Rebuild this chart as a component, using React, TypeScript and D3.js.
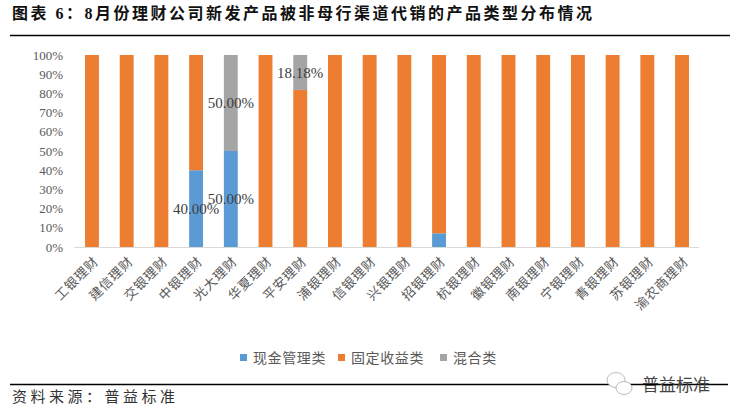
import React from "react";
import * as d3 from "d3";

const categories = ["工银理财","建信理财","交银理财","中银理财","光大理财","华夏理财","平安理财","浦银理财","信银理财","兴银理财","招银理财","杭银理财","徽银理财","南银理财","宁银理财","青银理财","苏银理财","渝农商理财"];
const cashValues = [0,0,0,40,50,0,0,0,0,0,7.14,0,0,0,0,0,0,0];
const fixedValues = [100,100,100,60,0,100,81.82,100,100,100,92.86,100,100,100,100,100,100,100];
const mixedValues = [0,0,0,0,50,0,18.18,0,0,0,0,0,0,0,0,0,0,0];
const seriesNames = ["现金管理类","固定收益类","混合类"];
const seriesColors = ["#5B9BD5","#ED7D31","#A5A5A5"];
const yTicks = [0,10,20,30,40,50,60,70,80,90,100];
// labelled segments: [series index, category index]
const labelled: [number, number][] = [[0,3],[0,4],[2,4],[2,6]];

const title = "图表 6：8月份理财公司新发产品被非母行渠道代销的产品类型分布情况";
const source = "资料来源：普益标准";
const watermark = "普益标准";

export default function App() {
  const W = 737, H = 419;
  const x = d3.scaleBand<string>().domain(categories).range([74.6, 699.4]).paddingInner(0.6).paddingOuter(0.3);
  const y = d3.scaleLinear().domain([0, 100]).range([247, 55]);
  const table = categories.map((c, i) => ({ cat: c, s0: cashValues[i], s1: fixedValues[i], s2: mixedValues[i] }));
  const stack = d3.stack<any>().keys(["s0","s1","s2"])(table);
  const serif = "'Liberation Serif', 'Noto Sans CJK SC', serif";
  const cjk = "'Noto Sans CJK SC', sans-serif";
  return (
    <svg width={W} height={H} style={{ position: "absolute", left: 0, top: 0, background: "#fff" }}>
      <text x={12} y={19} fontFamily={serif} fontWeight="bold" fontSize={16} letterSpacing={2.5} fill="#111">{title}</text>
      <line x1={10} x2={730} y1={35.5} y2={35.5} stroke="#000" strokeWidth={1.5} />

      {yTicks.map(t => (
        <text key={t} x={63} y={y(t)} dy="0.35em" textAnchor="end" fontFamily={serif} fontSize={13} fill="#595959">{t}%</text>
      ))}

      {stack.map((layer, si) => (
        <g key={si} fill={seriesColors[si]}>
          {layer.map((d, i) => (
            d[1] - d[0] > 0 ? <rect key={i} x={x(categories[i])} width={x.bandwidth()} y={y(d[1])} height={y(d[0]) - y(d[1])} /> : null
          ))}
        </g>
      ))}

      <line x1={74} x2={699} y1={247.5} y2={247.5} stroke="#D9D9D9" strokeWidth={1} />

      {labelled.map(([si, ci], k) => {
        const d = stack[si][ci];
        const cx = (x(categories[ci]) as number) + x.bandwidth() / 2;
        const cy = y((d[0] + d[1]) / 2);
        const v = [cashValues, fixedValues, mixedValues][si][ci];
        return <text key={k} x={cx} y={cy} dy="0.35em" textAnchor="middle" fontFamily={serif} fontSize={15} fill="#404040">{v.toFixed(2)}%</text>;
      })}

      {categories.map((c, i) => {
        const cx = (x(c) as number) + x.bandwidth() / 2;
        return (
          <text key={c} transform={`translate(${cx + 4},${259}) rotate(-45)`} dy="0.35em" textAnchor="end" fontFamily={cjk} fontSize={13} letterSpacing={0.8} fill="#595959">{c}</text>
        );
      })}

      {seriesNames.map((n, i) => {
        const lx = [240, 338, 440][i];
        return (
          <g key={n}>
            <rect x={lx} y={354} width={7} height={7} fill={seriesColors[i]} />
            <text x={lx + 13} y={358} dy="0.35em" fontFamily={cjk} fontSize={14} letterSpacing={0.6} fill="#595959">{n}</text>
          </g>
        );
      })}

      <line x1={10} x2={728} y1={384.5} y2={384.5} stroke="#000" strokeWidth={1.5} />
      <text x={12} y={397} dy="0.35em" fontFamily={cjk} fontSize={15} letterSpacing={3.5} fill="#333">{source}</text>

      <g fill="#fff" stroke="#aaa" strokeWidth={0.8}>
        <ellipse cx={616} cy={380} rx={9} ry={7.5} />
        <ellipse cx={624} cy={388} rx={8} ry={6.5} />
      </g>
      <text x={642} y={385} dy="0.35em" fontFamily={cjk} fontSize={17} fill="#444">{watermark}</text>
    </svg>
  );
}
